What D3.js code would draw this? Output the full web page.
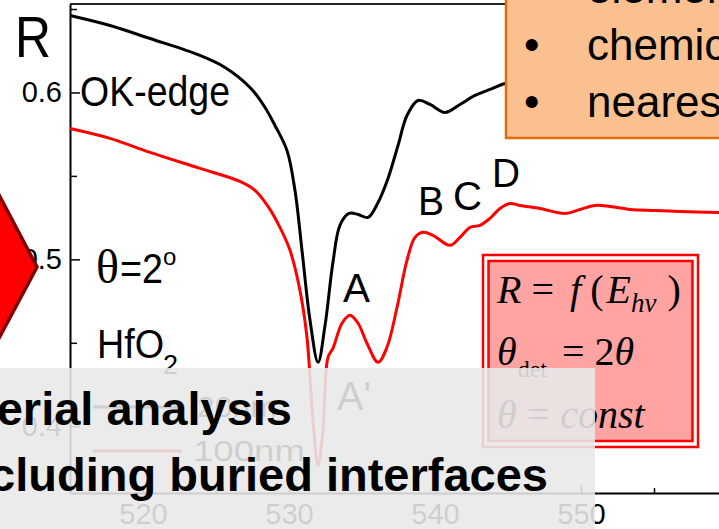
<!DOCTYPE html>
<html>
<head>
<meta charset="utf-8">
<script src="https://cdn.jsdelivr.net/npm/d3@7"></script>
<style>
body { margin: 0; background: #fff; overflow: hidden; }
svg { display: block; font-family: "Liberation Sans", Arial, sans-serif; }
</style>
</head>
<body>
<div class="chart"></div>
<script>
// HfO2 20nm (black) - O K-edge reflectivity
var energy20 = [515.00, 517.74, 520.48, 523.90, 525.62, 527.33, 528.36, 529.04, 529.86, 530.41,
                530.89, 531.44, 531.99, 532.47, 533.01, 533.49, 534.11, 534.73, 535.41, 536.10,
                536.78, 537.47, 538.08, 538.84, 539.66, 540.68, 541.71, 542.74, 543.77, 544.79,
                546.50, 549.00];
var refl20   = [0.6461, 0.6401, 0.6323, 0.6222, 0.6150, 0.6030, 0.5910, 0.5802, 0.5653, 0.5413,
                0.5054, 0.4635, 0.4383, 0.4605, 0.4982, 0.5204, 0.5275, 0.5269, 0.5251, 0.5341,
                0.5485, 0.5683, 0.5862, 0.5952, 0.5928, 0.5880, 0.5928, 0.5982, 0.6018, 0.6054,
                0.6080, 0.6110];

// HfO2 100nm (red)
var energy100 = [515.00, 517.74, 520.48, 523.90, 526.64, 527.67, 528.56, 529.38, 530.07, 530.75,
                 531.23, 531.64, 531.99, 532.33, 532.67, 533.01, 533.63, 534.18, 534.73, 535.34,
                 536.10, 536.71, 537.40, 538.08, 538.63, 539.18, 539.86, 541.03, 541.71, 542.40,
                 543.08, 543.77, 544.45, 545.14, 545.82, 547.19, 548.90, 549.93, 550.96, 551.99,
                 553.36, 555.07, 556.78, 559.45];
var refl100   = [0.5784, 0.5725, 0.5641, 0.5545, 0.5467, 0.5413, 0.5317, 0.5192, 0.5054, 0.4814,
                 0.4533, 0.4036, 0.3766, 0.3976, 0.4413, 0.4467, 0.4617, 0.4665, 0.4617, 0.4497,
                 0.4383, 0.4473, 0.4713, 0.4994, 0.5132, 0.5162, 0.5144, 0.5084, 0.5132, 0.5192,
                 0.5204, 0.5246, 0.5305, 0.5335, 0.5323, 0.5305, 0.5275, 0.5299, 0.5323, 0.5317,
                 0.5299, 0.5293, 0.5287, 0.5281];

var xTicks = [520, 530, 540, 550];
var xMinor = [525, 535, 545, 555];
var yTicks = [0.4, 0.5, 0.6];
var yMinor = [0.45, 0.55, 0.65];
var legendNames = ["20nm", "100nm"];
var bullets = ["elemental composition", "chemical state", "nearest neighbours"];

var W = 719, H = 529;
var sans = "'Liberation Sans', Arial, sans-serif";
var serif = "'Liberation Serif', 'Times New Roman', serif";

var svg = d3.select("div.chart").append("svg")
            .attr("width", W).attr("height", H);

var x = d3.scaleLinear().domain([515, 560]).range([70, 727]);
var y = d3.scaleLinear().domain([0.36, 0.653]).range([493, 4]);

// 축
var gx = svg.append("g").attr("transform", "translate(0," + y(0.36) + ")")
    .call(d3.axisBottom(x).tickValues(xTicks).tickSizeInner(-8).tickSizeOuter(0)
            .tickPadding(10).tickFormat(d3.format("d")));
svg.append("g").attr("transform", "translate(0," + y(0.36) + ")")
    .call(d3.axisBottom(x).tickValues(xMinor).tickSizeInner(-5).tickSizeOuter(0).tickFormat(""))
    .select(".domain").remove();

var gy = svg.append("g").attr("transform", "translate(" + x(515) + ",0)")
    .call(d3.axisLeft(y).tickValues(yTicks).tickSizeInner(-10).tickSizeOuter(0)
            .tickPadding(8).tickFormat(d3.format(".1f")));
svg.append("g").attr("transform", "translate(" + x(515) + ",0)")
    .call(d3.axisLeft(y).tickValues(yMinor).tickSizeInner(-7).tickSizeOuter(0).tickFormat(""))
    .select(".domain").remove();

svg.selectAll(".domain").attr("stroke", "#000").attr("stroke-width", 2);
svg.selectAll(".tick line").attr("stroke", "#000").attr("stroke-width", 1.5);
gx.attr("font-family", sans).selectAll("text").attr("font-size", 29).attr("fill", "#000");
gy.attr("font-family", sans).selectAll("text").attr("font-size", 29).attr("fill", "#000");

// 위쪽 테두리
svg.append("line")
   .attr("x1", x(515)).attr("x2", W)
   .attr("y1", y(0.653)).attr("y2", y(0.653))
   .attr("stroke", "#222").attr("stroke-width", 2);

// 곡선
var line = d3.line().curve(d3.curveCatmullRom.alpha(0.5))
             .x(function(d) { return x(d[0]); })
             .y(function(d) { return y(d[1]); });

svg.append("path")
   .datum(d3.zip(energy100, refl100))
   .attr("d", line).attr("fill", "none")
   .attr("stroke", "#ff0000").attr("stroke-width", 3);

svg.append("path")
   .datum(d3.zip(energy20, refl20))
   .attr("d", line).attr("fill", "none")
   .attr("stroke", "#000").attr("stroke-width", 3);

// 범례 (가려진 부분)
var legendColors = ["#000", "#ff0000"];
var legendY = [407, 451];
legendNames.forEach(function(name, i) {
  svg.append("line").attr("x1", 93).attr("x2", 182)
     .attr("y1", legendY[i]).attr("y2", legendY[i])
     .attr("stroke", legendColors[i]).attr("stroke-width", 3);
  svg.append("text").attr("x", i == 0 ? 197 : 193).attr("y", legendY[i] + 10)
     .attr("font-size", 30).attr("textLength", i == 0 ? 80 : 112)
     .attr("lengthAdjust", "spacingAndGlyphs").text(name);
});

// 글자 라벨
function label(t, px, py, size, len) {
  var el = svg.append("text").attr("x", px).attr("y", py)
              .attr("font-size", size).attr("fill", "#000").text(t);
  if (len) el.attr("textLength", len).attr("lengthAdjust", "spacingAndGlyphs");
  return el;
}
label("R", 15, 57, 58, 36);
label("OK-edge", 80, 106, 43, 150);
label("A", 343, 302, 40, 27);
label("B", 418, 215, 40, 26);
label("C", 453, 210, 40, 29);
label("D", 492, 187, 40, 28);
label("A'", 337, 410, 40, 34);

label("\u03b8", 96, 283, 48).style("font-family", serif);
label("=2", 120, 283, 42, 43);
label("o", 163, 265, 24);
label("HfO", 97, 358, 40, 67);
label("2", 163, 374, 27);

// 수식 상자
svg.append("rect").attr("x", 483).attr("y", 255).attr("width", 215).attr("height", 192)
   .attr("fill", "#fff").attr("stroke", "#ff0000").attr("stroke-width", 2.5);
svg.append("rect").attr("x", 488.5).attr("y", 261).attr("width", 204).attr("height", 180)
   .attr("fill", "#ffa3a3").attr("stroke", "#ff0000").attr("stroke-width", 2.5);

var f1 = svg.append("text").attr("x", 497).attr("y", 303).attr("font-size", 40)
            .style("font-family", serif).attr("font-style", "italic");
f1.append("tspan").text("R");
f1.append("tspan").attr("font-style", "normal").attr("dx", 10).text("=");
f1.append("tspan").attr("dx", 16).text("f");
f1.append("tspan").attr("font-style", "normal").attr("dx", 9).text("(");
f1.append("tspan").attr("dx", 3).text("E");
f1.append("tspan").attr("font-size", 27).attr("dy", 9).text("h\u03bd");
f1.append("tspan").attr("font-style", "normal").attr("dy", -9).attr("dx", 11).text(")");

var f2 = svg.append("text").attr("x", 497).attr("y", 365).attr("font-size", 40)
            .style("font-family", serif).attr("font-style", "italic");
f2.append("tspan").text("\u03b8");
f2.append("tspan").attr("font-style", "normal").attr("font-size", 24).attr("dy", 12).attr("dx", 1).text("det");
f2.append("tspan").attr("font-style", "normal").attr("dy", -12).attr("dx", 15).text("=");
f2.append("tspan").attr("font-style", "normal").attr("dx", 10).text("2");
f2.append("tspan").text("\u03b8");

var f3 = svg.append("text").attr("x", 497).attr("y", 428).attr("font-size", 40)
            .style("font-family", serif).attr("font-style", "italic");
f3.append("tspan").text("\u03b8");
f3.append("tspan").attr("font-style", "normal").attr("dx", 10).text("=");
f3.append("tspan").attr("dx", 11).text("const");

// 주황 상자
svg.append("rect").attr("x", 506).attr("y", -10).attr("width", 240).attr("height", 148)
   .attr("fill", "#fac090").attr("stroke", "#e46c0a").attr("stroke-width", 2.5);
bullets.forEach(function(b, i) {
  svg.append("text").attr("x", 524).attr("y", 3 + i * 57).attr("font-size", 44).text("\u2022");
  svg.append("text").attr("x", 587).attr("y", 3 + i * 57).attr("font-size", 44).text(b);
});

// 빨간 화살표 모양
svg.append("path")
   .attr("d", "M-40,193 L-2,193 L37,267 L-2,340 L-40,340 Z")
   .attr("fill", "#ff0000").attr("stroke", "#800000").attr("stroke-width", 3.5)
   .attr("stroke-linejoin", "miter");

// 회색 덮개
svg.append("rect").attr("x", 0).attr("y", 368).attr("width", 595).attr("height", 170)
   .attr("fill", "#e8e8e8").attr("fill-opacity", 0.885);

svg.append("text").attr("x", 292).attr("y", 425).attr("text-anchor", "end")
   .attr("font-size", 47).attr("font-weight", "bold").text("erial analysis");
svg.append("text").attr("x", 548).attr("y", 491).attr("text-anchor", "end")
   .attr("font-size", 47).attr("font-weight", "bold").text("cluding buried interfaces");
</script>
</body>
</html>
